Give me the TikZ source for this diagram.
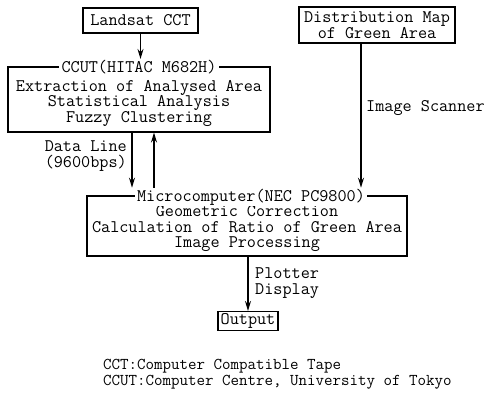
\documentclass[tikz,border=0pt]{standalone}
\usetikzlibrary{arrows.meta}
\begin{document}
\begin{tikzpicture}[x=1pt,y=-1pt,
  every node/.style={font=\fontsize{17.7pt}{15.5pt}\selectfont\ttfamily, inner sep=0pt},
  boxed/.style={draw, line width=1.1pt},
  frame/.style={draw, line width=1.1pt},
  title/.style={fill=white, inner xsep=2.5pt, inner ysep=1pt},
  body/.style={align=center},
  lbl/.style={align=left},
  note/.style={align=left, font=\fontsize{16.5pt}{15.5pt}\selectfont\ttfamily},
  conn/.style={line width=1.1pt, -{Stealth[length=10pt,width=6pt]}}]
\useasboundingbox (0,0) rectangle (488,397);
% top boxes
\node[boxed, minimum width=115pt, minimum height=25pt] (landsat) at (140.5,20.5) {Landsat CCT};
\node[boxed, minimum width=156pt, minimum height=36pt, align=center] (dist) at (377,25) {Distribution Map\\of Green Area};
% CCUT box
\node[frame, minimum width=262pt, minimum height=65pt] (ccut) at (139,99.5) {};
\node[body] (ccutbody) at (139,103) {Extraction of Analysed Area\\Statistical Analysis\\Fuzzy Clustering};
\node[title] (ccuttitle) at (139,67) {CCUT(HITAC M682H)};
% Microcomputer box
\node[frame, minimum width=320pt, minimum height=60pt] (micro) at (247,226) {};
\node[body] (microbody) at (247,229) {Geometric Correction\\Calculation of Ratio of Green Area\\Image Processing};
\node[title] (microtitle) at (251,197) {Microcomputer(NEC PC9800)};
% Output
\node[boxed, minimum width=60pt, minimum height=19pt] (output) at (248,321) {Output};
% helper coordinates for vertical connectors
\coordinate (dlx) at (132,0);
\coordinate (ulx) at (154,0);
\coordinate (scx) at (361,0);
% connectors
\draw[conn] (landsat.south) -- (ccuttitle.north -| landsat.south);
\draw[conn] (ccut.south -| dlx) -- (microtitle.north -| dlx);
\draw[conn] (microtitle.north -| ulx) -- (ccut.south -| ulx);
\draw[conn] (dist.south -| scx) -- (microtitle.north -| scx);
\draw[conn] (micro.south -| output.north) -- (output.north);
% labels
\node[lbl, anchor=east] (dataline) at (127,156) {Data Line\\(9600bps)};
\node[lbl, anchor=west] (scanner) at (366,108) {Image Scanner};
\node[lbl, anchor=west] (plotter) at (255,283) {Plotter\\Display};
\node[note, anchor=west] (notes) at (103,374) {CCT:Computer Compatible Tape\\CCUT:Computer Centre, University of Tokyo};
\end{tikzpicture}
\end{document}
